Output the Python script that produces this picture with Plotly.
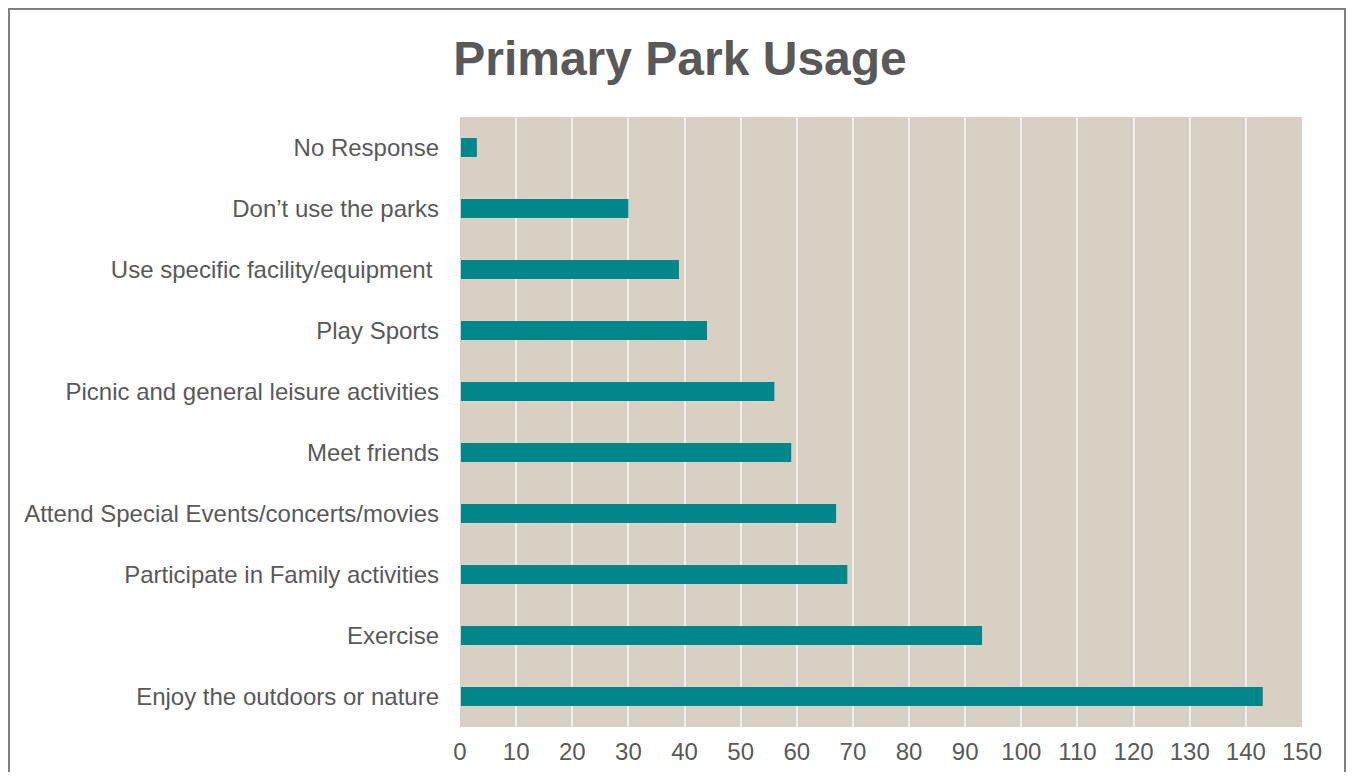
import plotly.graph_objects as go

categories = [
    "Enjoy the outdoors or nature",
    "Exercise",
    "Participate in Family activities",
    "Attend Special Events/concerts/movies",
    "Meet friends",
    "Picnic and general leisure activities",
    "Play Sports",
    "Use specific facility/equipment ",
    "Don\u2019t use the parks",
    "No Response",
]
values = [143, 93, 69, 67, 59, 56, 44, 39, 30, 3]
x_ticks = list(range(0, 151, 10))

W, H = 1338, 764
L, T = 452, 109
R = W - 1294
B = H - 719
PW, PH = W - L - R, H - T - B

fig = go.Figure(go.Bar(
    y=categories, x=values, orientation="h",
    marker=dict(color="#00878C", line=dict(width=0)),
    width=0.31,
))

fig.update_layout(
    width=W, height=H,
    paper_bgcolor="white", plot_bgcolor="#D8D0C2",
    margin=dict(l=L, r=R, t=T, b=B, autoexpand=False),
    showlegend=False,
    title=dict(text="<b>Primary Park Usage</b>", x=672/W, xref="container", xanchor="center",
               y=1 - 50/H, yref="container", yanchor="middle",
               font=dict(family="Liberation Sans, Arial", size=48, color="#595959")),
    font=dict(family="Liberation Sans, Arial", size=24, color="#595959"),
    xaxis=dict(range=[0, 150], tickvals=x_ticks, showgrid=True, gridcolor="#F2EFEA", gridwidth=2,
               zeroline=False, showline=False, ticks="", tickfont=dict(size=24, color="#595959"),
               ticklabelstandoff=8, fixedrange=True, automargin=False),
    yaxis=dict(categoryorder="array", categoryarray=categories, showgrid=False, ticks="",
               ticklabelstandoff=20, tickfont=dict(size=24, color="#595959"), range=[-0.5, 9.5],
               automargin=False),
    shapes=[dict(type="line", xref="x", yref="paper", x0=0, x1=0, y0=0, y1=1,
                 line=dict(color="#D0D0D0", width=2)),
            dict(type="rect", xref="paper", yref="paper",
                 x0=(1 - L) / PW, x1=(W - 1 - L) / PW,
                 y0=-(B + 30) / PH, y1=(PH + T - 1) / PH,
                 line=dict(color="#808080", width=2), fillcolor="rgba(0,0,0,0)")],
)

fig.write_html("out.html")
